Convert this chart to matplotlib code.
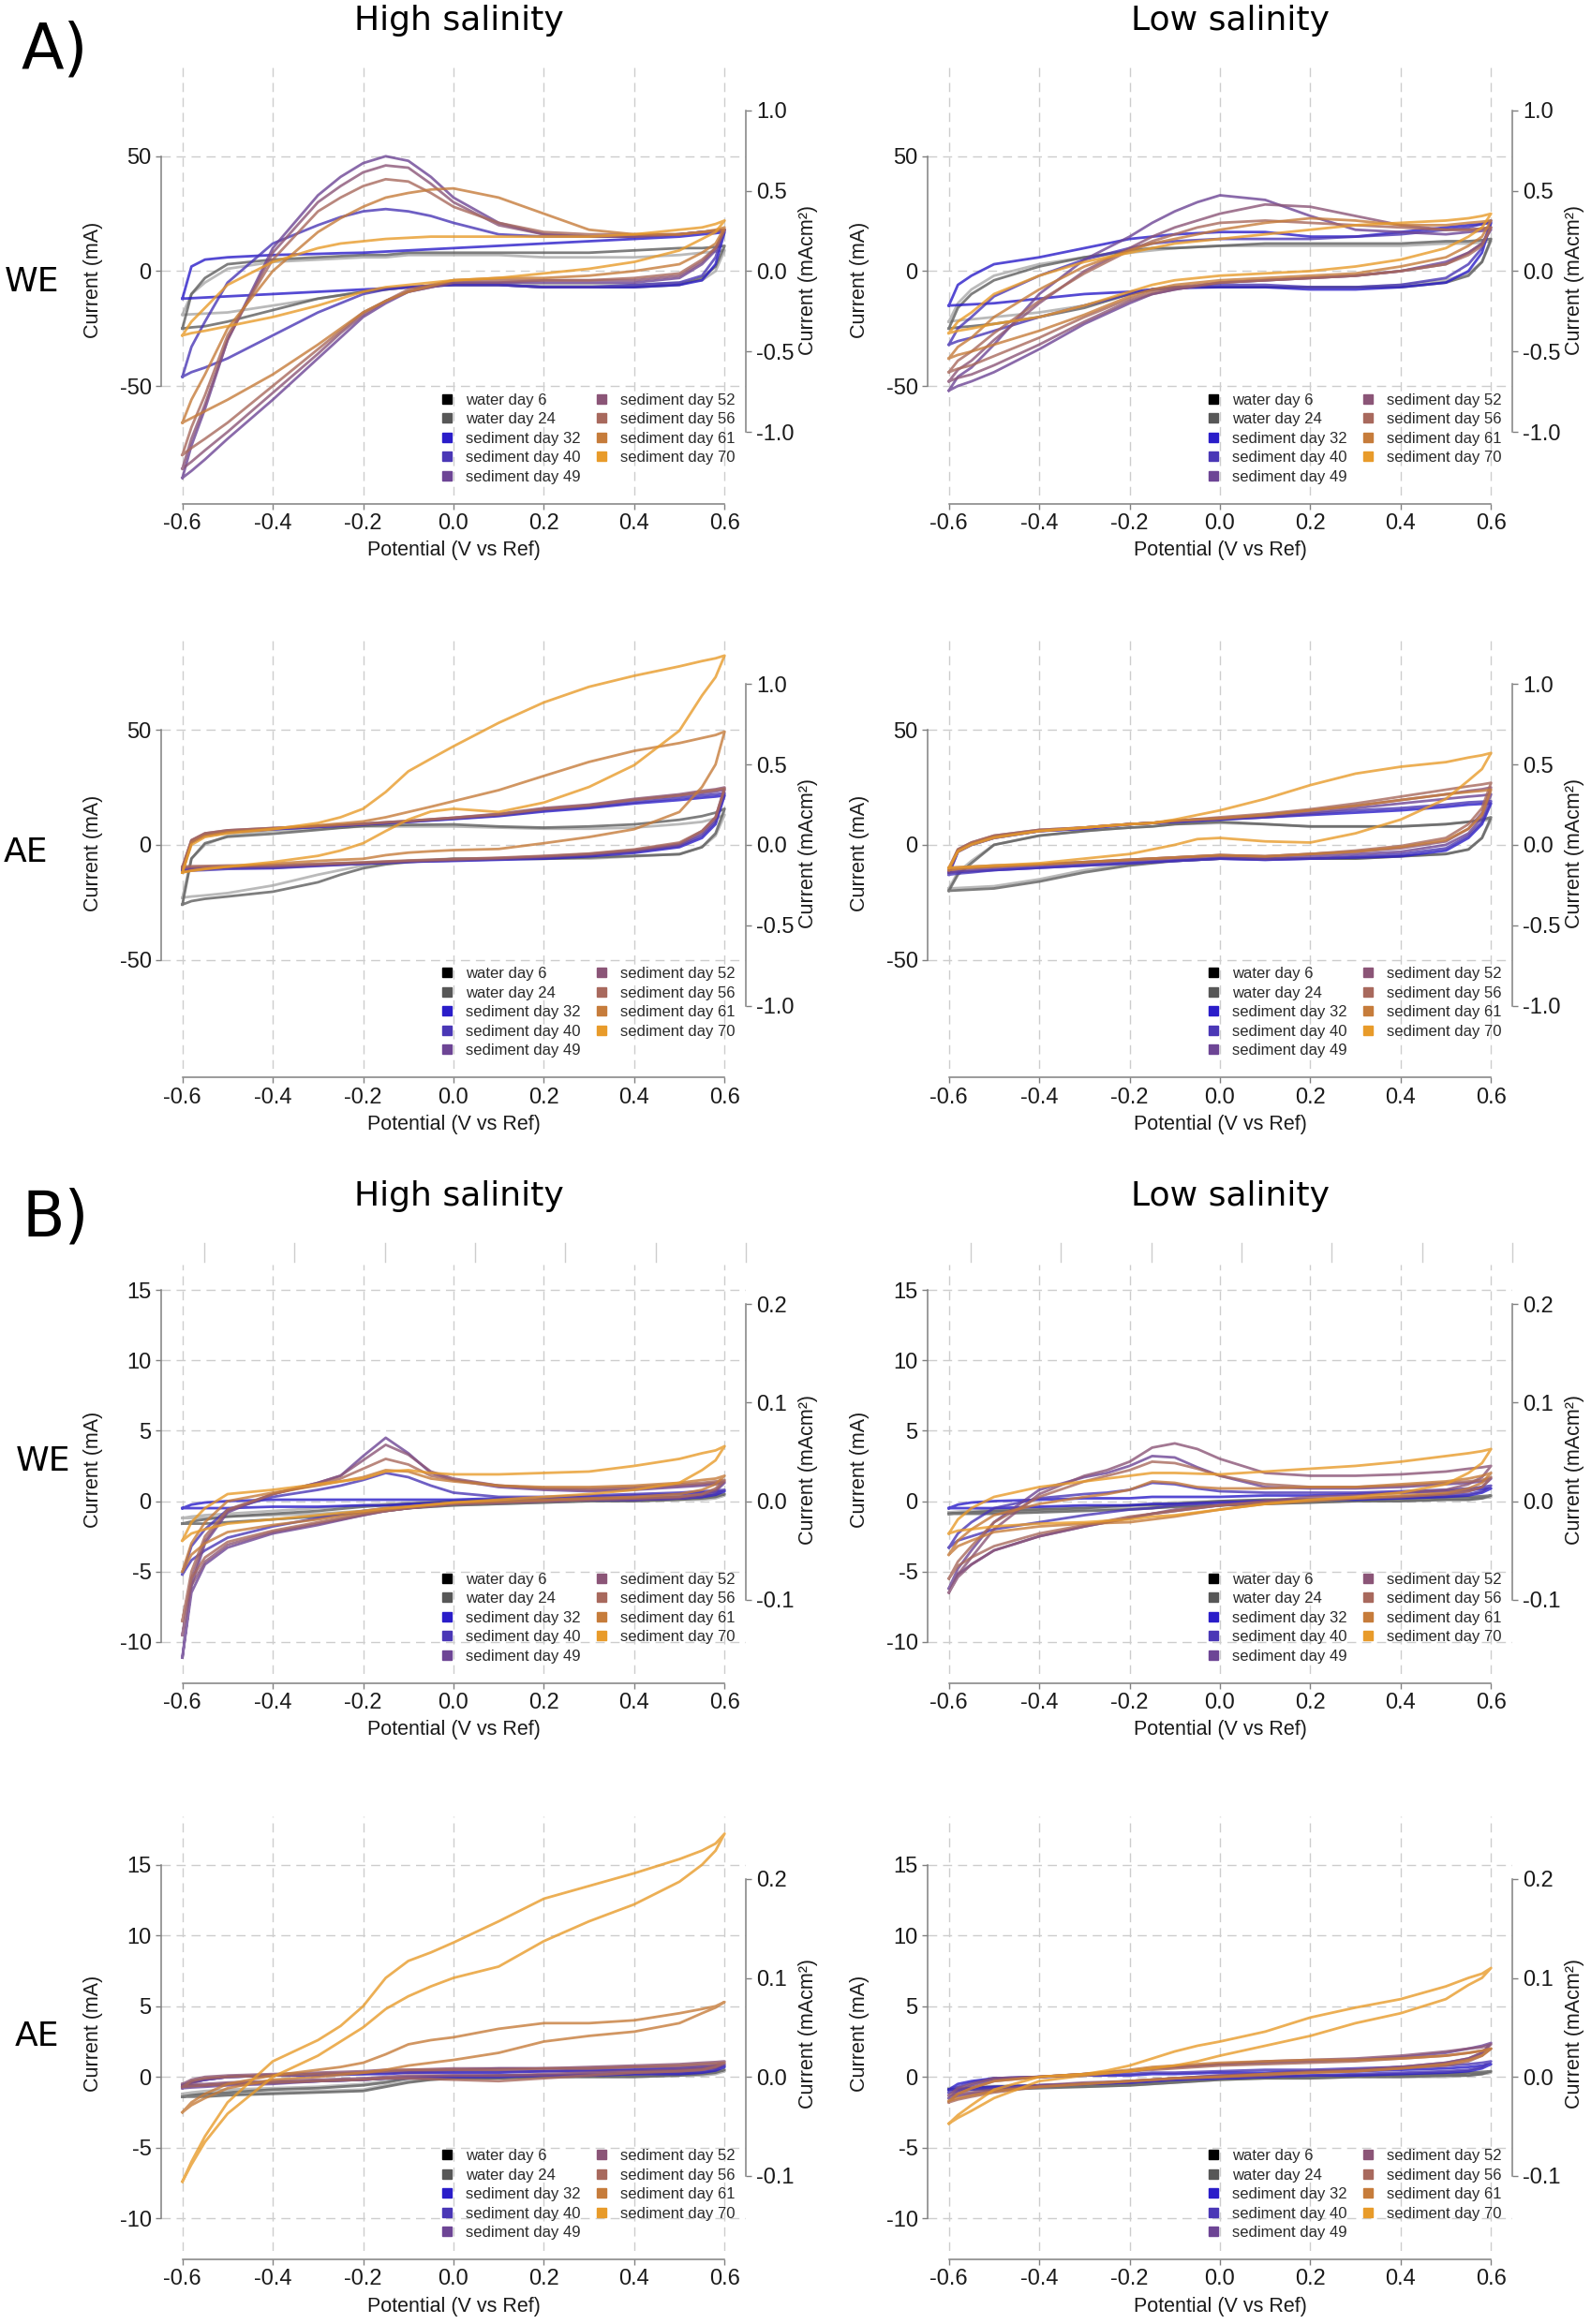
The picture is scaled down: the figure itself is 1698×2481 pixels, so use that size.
import matplotlib
matplotlib.use('Agg')
import matplotlib.pyplot as plt
import matplotlib.transforms as mtransforms
from matplotlib.lines import Line2D
from matplotlib.ticker import FormatStrFormatter

plt.rcParams['axes.unicode_minus'] = False
plt.rcParams['font.family'] = ['Liberation Sans', 'DejaVu Sans']

POT = [-0.6, -0.58, -0.55, -0.5, -0.4, -0.3, -0.25, -0.2, -0.15, -0.1, -0.05,
       0.0, 0.1, 0.2, 0.3, 0.4, 0.5, 0.55, 0.58, 0.6]

SERIES = ['water day 6', 'water day 24', 'sediment day 32', 'sediment day 40',
          'sediment day 49', 'sediment day 52', 'sediment day 56', 'sediment day 61',
          'sediment day 70']
KEY_COLOURS = ['#000000', '#575757', '#2a1dc9', '#4a37b6', '#6d4595', '#8b5577',
               '#a8695d', '#c67c3b', '#e89b2a']
TRACE_COLOURS = ['#a9a9a9', '#5e5e5e', '#2a1dc9', '#4a37b6', '#6d4595', '#8b5577',
                 '#a8695d', '#c67c3b', '#e89b2a']

AREA = 70.0  # cm2, converts mA to mA/cm2 on the right axis

# ---------------- A) working electrode, high salinity (mA); forward / reverse scan
A_WE_HIGH_FWD = [
    [-19, -10, -5, 1, 4, 5, 5.5, 6, 6, 7, 7, 7, 7, 6, 6, 6, 7, 8, 8.5, 9],
    [-25, -10, -3, 3, 5, 6, 6.5, 7, 7, 8, 8, 8, 8, 8, 8, 9, 10, 10, 10.5, 11],
    [-12, 2, 5, 6, 7, 7.5, 7.8, 8, 8.5, 9, 9.5, 10, 11, 12, 13, 14, 15, 16, 16.5, 17],
    [-46, -33, -22, -5, 12, 20, 23.5, 26, 27, 26, 24, 21, 16, 15, 15, 15, 16, 17, 17.5, 18],
    [-90, -76, -60, -30, 10, 33, 41, 47, 50, 48, 41, 32, 21, 16, 15, 15, 16, 17, 17.5, 18],
    [-86, -73, -58, -30, 8, 30, 37, 43, 46, 45, 38, 30, 20, 16, 15, 15, 16, 17, 17.5, 18],
    [-80, -68, -54, -28, 5, 26, 32, 37, 40, 39, 34, 28, 21, 17, 16, 16, 16, 17, 17.5, 18],
    [-66, -56, -45, -25, 0, 17, 23, 28, 32, 34, 35.5, 36, 32, 25, 18, 16, 16, 17, 18, 19],
    [-28, -22, -16, -6, 4, 10, 12, 13, 14, 14.5, 15, 15, 15, 15, 15, 16, 18, 19, 20.5, 22],
]
A_WE_HIGH_REV = [
    [-19, -18.8, -18.5, -18, -15, -12, -10.5, -9, -8, -7, -6.5, -6, -6, -6, -6, -6, -5, -4, 0, 9],
    [-25, -24.5, -24, -22, -17, -12, -10.5, -9, -8, -7, -6.5, -6, -6, -7, -7, -7, -6, -3, 2, 11],
    [-12, -11.8, -11.5, -11, -10, -9, -8.5, -8, -7.5, -7, -6.5, -6, -6, -7, -7, -7, -6, -4, 3, 17],
    [-46, -44, -42, -38, -28, -18, -14, -10, -8, -7, -6.5, -6, -6, -7, -7, -6, -5, -2, 6, 18],
    [-90, -87, -82, -73, -56, -38, -29, -20, -14, -9, -7, -5, -5, -5, -5, -5, -3, 3, 9, 18],
    [-86, -83, -78, -70, -53, -36, -27, -19, -13, -9, -7, -5, -5, -4, -4, -4, -2, 4, 10, 18],
    [-80, -77, -73, -66, -50, -34, -26, -18, -13, -8, -6, -4, -4, -4, -4, -3, -1, 5, 10, 18],
    [-66, -64, -61, -56, -45, -32, -25, -18, -13, -9, -6.5, -4, -3, -3, -2, 0, 3, 8, 12, 19],
    [-28, -27, -26, -24, -20, -15, -12, -9, -7, -6, -5, -4, -3, -1, 1, 4, 9, 14, 17, 22],
]

# ---------------- A) working electrode, low salinity
A_WE_LOW_FWD = [
    [-22, -14, -8, -2, 3, 6, 7, 8, 9, 10, 10.5, 11, 11, 11, 11, 11, 12, 12, 12.5, 13],
    [-25, -16, -10, -4, 2, 6, 7.5, 9, 10, 10, 10.5, 11, 12, 12, 12, 12, 13, 13, 13.5, 14],
    [-15, -6, -2, 3, 6, 10, 12, 14, 15, 16, 16.5, 17, 17, 15, 15, 17, 19, 20, 20.5, 21],
    [-32, -25, -20, -11, -2, 5, 7.5, 10, 12, 13, 13.5, 14, 14, 14, 15, 16, 18, 19, 20.5, 22],
    [-52, -46, -42, -32, -10, 5, 10, 15, 21, 26, 30, 33, 31, 24, 18, 17, 16, 17, 17.5, 18],
    [-48, -43, -39, -30, -14, 0, 5, 10, 15, 19, 22, 25, 29, 28, 24, 20, 18, 18, 18.5, 19],
    [-44, -39, -35, -27, -13, -1, 4, 9, 13, 16, 19, 21, 22, 21, 20, 19, 18, 18, 18.5, 19],
    [-38, -33, -29, -20, -8, 2, 5.5, 9, 12, 14, 16, 18, 21, 23, 22, 20, 20, 21, 21.5, 22],
    [-27, -22, -18, -10, -2, 4, 6, 8, 10, 12, 13, 14, 16, 18, 20, 21, 22, 23, 24, 25],
]
A_WE_LOW_REV = [
    [-22, -21.5, -21, -20, -18, -15, -12.5, -10, -8, -7, -7, -7, -7, -7, -7, -6, -4, -1, 4, 13],
    [-25, -24.5, -24, -23, -20, -16, -13, -10, -8, -7, -7, -7, -7, -7, -7, -7, -5, -2, 4, 14],
    [-15, -14.8, -14.5, -14, -12, -10, -9.5, -9, -8, -7.5, -7.2, -7, -7, -8, -8, -7, -5, 0, 8, 21],
    [-32, -30.5, -29, -26, -20, -15, -12.5, -10, -8, -7, -6.5, -6, -6, -7, -7, -6, -3, 3, 10, 22],
    [-52, -50, -48, -44, -34, -23, -18.5, -14, -10, -8, -6.5, -5, -4, -3, -2, 0, 4, 8, 12, 18],
    [-48, -46.5, -45, -41, -32, -22, -17.5, -13, -10, -8, -6.5, -5, -4, -3, -2, 0, 3, 8, 12, 19],
    [-44, -42.5, -41, -37, -29, -20, -16, -12, -9, -7, -6, -5, -4, -3, -2, 0, 3, 7, 11, 19],
    [-38, -36.5, -35, -32, -26, -19, -15, -11, -8, -6, -5, -4, -3, -2, -1, 2, 6, 11, 15, 22],
    [-27, -26, -25, -23, -20, -15, -12, -9, -6, -4, -3, -2, -1, 0, 2, 5, 10, 15, 19, 25],
]

# ---------------- A) auxiliary electrode, high salinity
A_AE_HIGH_FWD = [
    [-23, -6, 0, 4, 6, 7, 7.5, 8, 8, 8, 8, 8, 7.5, 7, 7, 7.5, 9, 10, 11.5, 13],
    [-26, -6, 0.7, 3.5, 4.8, 6.5, 7.4, 8.2, 8.5, 8.7, 8.8, 8.9, 8, 7.5, 8, 8.9, 10.9, 12.5, 14, 15.7],
    [-11, 1, 4, 5.5, 6.8, 7.8, 8.3, 8.9, 9.4, 10, 10.6, 11.2, 12.5, 14.5, 16, 18, 19.5, 20.5, 21, 21.5],
    [-11.5, 1, 4, 5.5, 6.8, 7.8, 8.3, 8.9, 9.4, 10, 10.7, 11.4, 12.8, 15, 16.5, 18.5, 20.5, 21.5, 22, 22.5],
    [-10.5, 1.5, 4.5, 6, 7, 8, 8.5, 9, 9.6, 10.2, 10.9, 11.6, 13, 15.5, 17, 19.5, 21.5, 22.5, 23.2, 24],
    [-10, 2, 5, 6.3, 7.3, 8.2, 8.7, 9.2, 9.8, 10.4, 11.1, 11.8, 13.5, 16, 17.5, 20, 22, 23.5, 24.2, 25],
    [-9.5, 2, 5, 6.3, 7.3, 8.2, 8.7, 9.2, 9.8, 10.4, 11.1, 11.8, 13.3, 15.6, 17.2, 19.6, 21.5, 23, 23.8, 24.5],
    [-12, 1, 4, 5.5, 7, 8.5, 9.3, 10.2, 12, 14.3, 16.6, 19, 23.8, 30, 36.1, 40.9, 44.3, 46.5, 47.8, 49.3],
    [-12, 0, 3.4, 5, 6.8, 9.5, 12, 15.7, 23, 32, 37.5, 42.9, 53.1, 62, 68.8, 73.6, 77.7, 80, 81.2, 82.4],
]
A_AE_HIGH_REV = [
    [-23, -22.5, -22, -21, -17.7, -13, -11, -9, -8, -7, -6.5, -6, -6, -6, -6, -5, -4, -1, 4, 13],
    [-26, -24.5, -23.5, -22.5, -20.4, -16.3, -13, -10.2, -8.5, -7.5, -6.8, -6.1, -6.1, -6.1, -5.5, -4.8, -4.1, -1, 5, 15.7],
    [-11, -10.8, -10.5, -10, -10, -9, -8.6, -8.2, -7.8, -7.4, -7.2, -7, -6.5, -6, -5, -3.5, -1, 3, 9, 21.5],
    [-11.5, -11.2, -11, -10.5, -10.2, -9.2, -8.7, -8.2, -7.8, -7.4, -7.1, -6.8, -6.3, -5.6, -4.6, -3, -0.5, 4, 10, 22.5],
    [-10.5, -10.2, -10, -9.8, -9.6, -8.8, -8.4, -8, -7.6, -7.2, -6.9, -6.6, -6, -5.3, -4.2, -2.6, 0, 5, 11, 24],
    [-10, -9.8, -9.6, -9.4, -9.2, -8.5, -8.1, -7.8, -7.4, -7, -6.7, -6.4, -5.8, -5, -4, -2.3, 0.5, 6, 12, 25],
    [-9.5, -9.3, -9.2, -9, -8.8, -8.2, -7.9, -7.6, -7.2, -6.8, -6.5, -6.2, -5.6, -4.8, -3.8, -2, 1, 6, 12, 24.5],
    [-12, -11.2, -10.5, -9.5, -8.2, -7, -6.5, -6.1, -4.5, -3.4, -2.8, -2.3, -1.8, 0.7, 3.4, 6.8, 14.3, 25.2, 35, 49.3],
    [-12, -11.3, -10.5, -9.5, -7.5, -4.8, -2.5, 0.7, 6, 11, 14.5, 15.7, 14.3, 18.4, 25.2, 34.7, 49.7, 65, 73, 82.4],
]

# ---------------- A) auxiliary electrode, low salinity
A_AE_LOW_FWD = [
    [-19, -12, -7, 0, 4, 6, 6.8, 7.5, 8, 9, 9.2, 9.5, 9, 8, 8, 8, 9, 10, 10.5, 11],
    [-20, -13, -8, 0, 4, 6, 6.8, 7.5, 8, 9, 9.5, 10, 9, 8, 8, 8, 9, 10, 11, 12],
    [-12, -3, 0, 3, 6, 7, 8, 9, 9.5, 10, 10.5, 11, 12, 13, 14, 15, 16.5, 17.5, 17.8, 18],
    [-13, -3, 0, 3, 6, 7, 8, 9, 9.5, 10, 10.5, 11, 12, 13.5, 15, 16, 17.5, 18.5, 18.8, 19],
    [-12, -2.5, 0.5, 3.5, 6, 7.5, 8.3, 9, 9.5, 10.5, 11, 11.5, 12.5, 14, 16, 18, 20, 21, 21.5, 22],
    [-11, -2, 1, 4, 6.5, 7.5, 8.3, 9, 9.5, 10.5, 11, 11.5, 13, 15, 17, 19.5, 22, 23.5, 24.2, 25],
    [-10, -2, 1, 4, 6.5, 7.5, 8.3, 9, 9.5, 10.5, 11.2, 12, 13.5, 15.5, 18, 21, 24, 25.5, 26.3, 27],
    [-11, -2.5, 0.5, 3.5, 6, 7.5, 8.3, 9, 9.5, 10.5, 11, 11.5, 13, 15, 17, 19.5, 22, 23, 23.5, 24],
    [-10, -3, 0, 3, 6, 7.5, 8.3, 9, 9.5, 11, 13, 15, 20, 26, 31, 34, 36, 38, 39, 40],
]
A_AE_LOW_REV = [
    [-19, -18.8, -18.5, -18, -15, -11, -9.7, -8.5, -7.5, -7, -6.5, -6, -6, -6, -6, -5, -4, -2, 3, 11],
    [-20, -19.8, -19.5, -19, -16, -12, -10.5, -9, -8, -7, -6.5, -6, -6, -6, -6, -5, -4, -2, 3, 12],
    [-12, -11.8, -11.5, -11, -10, -9, -8.5, -8, -7.5, -7, -6.5, -6, -6.5, -6, -5.5, -5, -2.5, 3, 9, 18],
    [-13, -12.5, -12, -11, -10, -9, -8.5, -8, -7.5, -7, -6.5, -6, -6.5, -6, -5, -4, -1.5, 4, 10, 19],
    [-12, -11.5, -11, -10, -9, -8, -7.5, -7, -6.5, -6, -5.5, -5, -6, -5, -4, -3, 0, 5, 12, 22],
    [-11, -10.5, -10, -9.5, -8.5, -7.5, -7, -6.5, -6, -5.5, -5, -4.5, -5, -4, -3, -1.5, 1.5, 7, 14, 25],
    [-10, -9.8, -9.5, -9, -8.5, -7.5, -7, -6.5, -6, -5.5, -5, -4.5, -5, -4, -2.5, -0.5, 3, 9, 16, 27],
    [-11, -10.5, -10, -9.5, -8.5, -7.5, -7, -6.5, -6, -5.5, -5, -4.5, -5, -4, -3, -1, 2, 7, 13, 24],
    [-10, -9.8, -9.5, -9, -8, -6, -5, -4, -2, 0, 2.5, 3, 1.5, 1, 5, 11, 20, 28, 33, 40],
]

# ---------------- B) working electrode, high salinity
B_WE_HIGH_FWD = [
    [-1.2, -1.1, -1.0, -0.9, -0.7, -0.5, -0.4, -0.3, -0.2, -0.1, -0.05, 0.0, 0.1, 0.1, 0.2, 0.2, 0.3, 0.3, 0.35, 0.4],
    [-1.6, -1.45, -1.3, -1.1, -0.9, -0.7, -0.55, -0.4, -0.3, -0.2, -0.1, 0.0, 0.1, 0.1, 0.2, 0.2, 0.3, 0.4, 0.45, 0.5],
    [-0.5, -0.25, -0.1, 0.0, 0.1, 0.1, 0.1, 0.1, 0.1, 0.1, 0.1, 0.1, 0.2, 0.2, 0.3, 0.4, 0.5, 0.6, 0.65, 0.7],
    [-5.2, -3.2, -2.0, -0.6, 0.3, 0.8, 1.1, 1.5, 2.0, 1.7, 1.1, 0.6, 0.3, 0.3, 0.4, 0.5, 0.6, 0.7, 0.75, 0.8],
    [-11.1, -6.0, -3.0, -0.8, 0.5, 1.3, 1.8, 3.2, 4.5, 3.4, 2.0, 1.5, 1.0, 0.8, 0.7, 0.8, 1.0, 1.1, 1.2, 1.3],
    [-9.5, -5.5, -2.8, -0.7, 0.5, 1.3, 1.8, 2.9, 4.0, 3.3, 2.1, 1.6, 1.1, 0.9, 0.8, 0.9, 1.1, 1.2, 1.3, 1.4],
    [-8.5, -5.0, -2.5, -0.6, 0.5, 1.2, 1.6, 2.3, 3.0, 2.6, 1.8, 1.5, 1.1, 0.9, 0.9, 1.0, 1.2, 1.3, 1.4, 1.5],
    [-5.0, -3.0, -1.5, 0.0, 0.6, 1.1, 1.4, 1.7, 2.2, 2.1, 1.6, 1.4, 1.1, 1.0, 1.0, 1.1, 1.3, 1.5, 1.6, 1.8],
    [-2.8, -1.5, -0.5, 0.5, 0.8, 1.2, 1.4, 1.6, 2.1, 2.2, 2.0, 1.9, 1.9, 2.0, 2.1, 2.5, 3.0, 3.4, 3.6, 3.9],
]
B_WE_HIGH_REV = [
    [-1.2, -1.2, -1.2, -1.1, -1.0, -0.9, -0.8, -0.7, -0.6, -0.5, -0.4, -0.3, -0.2, -0.1, 0.0, 0.0, 0.1, 0.1, 0.2, 0.4],
    [-1.6, -1.6, -1.6, -1.5, -1.3, -1.1, -0.95, -0.8, -0.7, -0.5, -0.4, -0.3, -0.2, -0.1, 0.0, 0.0, 0.1, 0.2, 0.3, 0.5],
    [-0.5, -0.5, -0.5, -0.5, -0.4, -0.4, -0.35, -0.3, -0.3, -0.2, -0.15, -0.1, 0.0, 0.0, 0.1, 0.1, 0.2, 0.3, 0.45, 0.7],
    [-5.2, -4.2, -3.5, -2.6, -1.8, -1.2, -0.95, -0.7, -0.5, -0.3, -0.2, -0.1, -0.1, 0.0, 0.1, 0.1, 0.2, 0.3, 0.5, 0.8],
    [-11.1, -6.5, -4.5, -3.3, -2.3, -1.7, -1.35, -1.0, -0.7, -0.5, -0.35, -0.2, -0.1, 0.0, 0.1, 0.1, 0.2, 0.4, 0.7, 1.3],
    [-9.5, -6.0, -4.3, -3.1, -2.2, -1.6, -1.3, -1.0, -0.7, -0.5, -0.35, -0.2, -0.1, 0.0, 0.1, 0.2, 0.3, 0.5, 0.8, 1.4],
    [-8.5, -5.5, -4.0, -2.9, -2.1, -1.5, -1.2, -0.9, -0.7, -0.5, -0.35, -0.2, -0.1, 0.0, 0.1, 0.2, 0.3, 0.5, 0.9, 1.5],
    [-5.0, -3.8, -3.0, -2.2, -1.7, -1.3, -1.05, -0.8, -0.6, -0.4, -0.25, -0.1, 0.0, 0.1, 0.2, 0.3, 0.5, 0.8, 1.2, 1.8],
    [-2.8, -2.3, -2.0, -1.6, -1.3, -1.0, -0.85, -0.7, -0.5, -0.4, -0.25, -0.1, 0.1, 0.3, 0.5, 0.8, 1.3, 2.2, 2.9, 3.9],
]

# ---------------- B) working electrode, low salinity
B_WE_LOW_FWD = [
    [-0.8, -0.75, -0.7, -0.6, -0.5, -0.4, -0.35, -0.3, -0.2, -0.1, -0.05, 0.0, 0.1, 0.1, 0.1, 0.2, 0.2, 0.2, 0.25, 0.3],
    [-0.9, -0.85, -0.8, -0.7, -0.6, -0.5, -0.4, -0.3, -0.3, -0.2, -0.1, 0.0, 0.1, 0.1, 0.2, 0.2, 0.3, 0.3, 0.35, 0.4],
    [-0.5, -0.25, -0.1, 0.0, 0.1, 0.2, 0.2, 0.2, 0.3, 0.3, 0.3, 0.3, 0.4, 0.4, 0.5, 0.6, 0.7, 0.8, 0.85, 0.9],
    [-3.3, -2.3, -1.5, -0.5, 0.2, 0.5, 0.6, 0.8, 1.3, 1.2, 0.9, 0.7, 0.6, 0.6, 0.6, 0.7, 0.8, 0.9, 1.0, 1.1],
    [-6.2, -4.8, -3.5, -1.5, 0.8, 1.7, 2.0, 2.5, 3.2, 3.1, 2.4, 1.8, 1.0, 0.9, 0.9, 1.0, 1.2, 1.3, 1.4, 1.6],
    [-6.5, -5.2, -4.0, -2.0, 0.5, 1.8, 2.2, 2.8, 3.8, 4.1, 3.7, 3.0, 2.0, 1.8, 1.8, 1.9, 2.1, 2.3, 2.4, 2.5],
    [-5.5, -4.3, -3.2, -1.5, 0.3, 1.4, 1.8, 2.2, 2.8, 2.7, 2.3, 1.8, 1.2, 1.0, 1.0, 1.1, 1.3, 1.4, 1.5, 1.7],
    [-3.8, -2.8, -2.0, -1.0, -0.2, 0.3, 0.5, 0.8, 1.4, 1.3, 1.0, 0.9, 0.9, 1.0, 1.0, 1.2, 1.4, 1.6, 1.8, 2.0],
    [-2.3, -1.3, -0.5, 0.3, 1.0, 1.4, 1.6, 1.8, 2.0, 2.0, 1.95, 1.9, 2.1, 2.3, 2.5, 2.8, 3.2, 3.4, 3.55, 3.7],
]
B_WE_LOW_REV = [
    [-0.8, -0.8, -0.8, -0.8, -0.7, -0.6, -0.55, -0.5, -0.5, -0.4, -0.35, -0.3, -0.2, -0.1, 0.0, 0.0, 0.1, 0.1, 0.2, 0.3],
    [-0.9, -0.9, -0.9, -0.9, -0.8, -0.7, -0.65, -0.6, -0.5, -0.4, -0.35, -0.3, -0.2, -0.1, 0.0, 0.0, 0.1, 0.1, 0.2, 0.4],
    [-0.5, -0.5, -0.5, -0.5, -0.4, -0.3, -0.3, -0.3, -0.2, -0.2, -0.15, -0.1, 0.0, 0.1, 0.1, 0.2, 0.3, 0.4, 0.6, 0.9],
    [-3.3, -2.8, -2.5, -2.0, -1.5, -1.0, -0.8, -0.6, -0.5, -0.3, -0.2, -0.1, 0.0, 0.1, 0.2, 0.3, 0.4, 0.5, 0.7, 1.1],
    [-6.2, -5.2, -4.5, -3.5, -2.5, -1.8, -1.5, -1.2, -0.9, -0.7, -0.5, -0.3, -0.1, 0.1, 0.2, 0.3, 0.5, 0.7, 1.0, 1.6],
    [-6.5, -5.4, -4.5, -3.5, -2.5, -1.8, -1.5, -1.2, -0.9, -0.6, -0.45, -0.3, 0.0, 0.3, 0.4, 0.6, 0.8, 1.2, 1.7, 2.5],
    [-5.5, -4.6, -4.0, -3.2, -2.3, -1.7, -1.4, -1.1, -0.9, -0.7, -0.5, -0.3, -0.1, 0.1, 0.2, 0.3, 0.5, 0.7, 1.0, 1.7],
    [-3.8, -3.2, -2.8, -2.2, -1.8, -1.6, -1.55, -1.5, -1.3, -1.1, -0.85, -0.6, -0.2, 0.0, 0.2, 0.4, 0.6, 0.9, 1.3, 2.0],
    [-2.3, -2.1, -2.0, -1.8, -1.6, -1.5, -1.4, -1.3, -1.1, -1.0, -0.8, -0.6, -0.2, 0.1, 0.3, 0.6, 1.2, 2.0, 2.7, 3.7],
]

# ---------------- B) auxiliary electrode, high salinity
B_AE_HIGH_FWD = [
    [-1.2, -1.1, -1.0, -0.9, -0.8, -0.7, -0.6, -0.5, -0.3, -0.1, -0.05, 0.0, 0.0, 0.1, 0.1, 0.2, 0.2, 0.3, 0.35, 0.4],
    [-1.4, -1.3, -1.2, -1.1, -0.9, -0.8, -0.7, -0.6, -0.4, -0.1, -0.05, 0.0, 0.1, 0.1, 0.1, 0.2, 0.3, 0.3, 0.4, 0.5],
    [-0.6, -0.35, -0.2, 0.0, 0.1, 0.1, 0.15, 0.2, 0.2, 0.3, 0.3, 0.3, 0.3, 0.4, 0.4, 0.5, 0.5, 0.6, 0.65, 0.7],
    [-0.7, -0.4, -0.2, 0.0, 0.1, 0.2, 0.2, 0.2, 0.3, 0.3, 0.35, 0.4, 0.4, 0.4, 0.5, 0.5, 0.6, 0.7, 0.75, 0.8],
    [-0.8, -0.4, -0.2, 0.0, 0.1, 0.2, 0.25, 0.3, 0.4, 0.4, 0.45, 0.5, 0.6, 0.6, 0.6, 0.7, 0.7, 0.8, 0.85, 0.9],
    [-0.5, -0.2, 0.0, 0.1, 0.2, 0.3, 0.35, 0.4, 0.5, 0.5, 0.55, 0.6, 0.6, 0.6, 0.7, 0.8, 0.9, 1.0, 1.05, 1.1],
    [-0.7, -0.3, -0.1, 0.0, 0.1, 0.2, 0.25, 0.3, 0.4, 0.5, 0.5, 0.5, 0.5, 0.6, 0.6, 0.7, 0.8, 0.9, 0.95, 1.0],
    [-2.5, -1.8, -1.2, -0.5, 0.1, 0.5, 0.7, 1.0, 1.6, 2.3, 2.6, 2.8, 3.4, 3.8, 3.8, 4.0, 4.5, 4.8, 5.0, 5.3],
    [-7.4, -6.0, -4.2, -1.8, 1.1, 2.6, 3.6, 5.0, 7.0, 8.2, 8.8, 9.5, 11.0, 12.6, 13.5, 14.4, 15.4, 16.0, 16.5, 17.2],
]
B_AE_HIGH_REV = [
    [-1.2, -1.2, -1.2, -1.2, -1.1, -1.0, -0.95, -0.9, -0.6, -0.3, -0.2, -0.1, -0.1, 0.0, 0.0, 0.0, 0.1, 0.1, 0.2, 0.4],
    [-1.4, -1.4, -1.4, -1.3, -1.2, -1.1, -1.05, -1.0, -0.7, -0.4, -0.2, -0.1, -0.1, 0.0, 0.0, 0.0, 0.1, 0.2, 0.3, 0.5],
    [-0.6, -0.6, -0.6, -0.5, -0.4, -0.3, -0.25, -0.2, -0.1, -0.1, -0.05, 0.0, 0.0, 0.1, 0.1, 0.2, 0.2, 0.3, 0.45, 0.7],
    [-0.7, -0.65, -0.6, -0.5, -0.4, -0.3, -0.25, -0.2, -0.1, -0.1, -0.05, 0.0, 0.0, 0.1, 0.1, 0.2, 0.3, 0.4, 0.55, 0.8],
    [-0.8, -0.75, -0.7, -0.6, -0.5, -0.3, -0.25, -0.2, -0.1, 0.0, 0.05, 0.1, 0.1, 0.1, 0.2, 0.3, 0.4, 0.5, 0.65, 0.9],
    [-0.5, -0.5, -0.5, -0.4, -0.3, -0.2, -0.15, -0.1, 0.0, 0.1, 0.1, 0.1, 0.1, 0.2, 0.3, 0.4, 0.5, 0.6, 0.8, 1.1],
    [-0.7, -0.65, -0.6, -0.5, -0.4, -0.3, -0.25, -0.2, -0.1, -0.1, -0.15, -0.2, -0.3, -0.1, 0.1, 0.3, 0.4, 0.5, 0.7, 1.0],
    [-2.5, -2.0, -1.5, -0.8, -0.2, 0.0, 0.15, 0.3, 0.5, 0.8, 1.0, 1.2, 1.7, 2.5, 2.9, 3.2, 3.8, 4.5, 4.9, 5.3],
    [-7.4, -6.2, -4.6, -2.6, 0.0, 1.5, 2.5, 3.5, 4.8, 5.7, 6.4, 7.0, 7.8, 9.6, 11.0, 12.2, 13.8, 15.0, 16.0, 17.2],
]

# ---------------- B) auxiliary electrode, low salinity
B_AE_LOW_FWD = [
    [-0.8, -0.75, -0.7, -0.65, -0.6, -0.55, -0.52, -0.5, -0.4, -0.2, -0.15, -0.1, 0.0, 0.0, 0.1, 0.1, 0.2, 0.2, 0.25, 0.3],
    [-0.9, -0.85, -0.8, -0.7, -0.6, -0.6, -0.55, -0.5, -0.4, -0.3, -0.2, -0.1, 0.0, 0.0, 0.1, 0.1, 0.2, 0.3, 0.35, 0.4],
    [-0.9, -0.5, -0.3, -0.1, 0.0, 0.1, 0.1, 0.1, 0.2, 0.2, 0.25, 0.3, 0.3, 0.4, 0.4, 0.5, 0.6, 0.7, 0.8, 0.9],
    [-1.1, -0.7, -0.4, -0.1, 0.0, 0.1, 0.15, 0.2, 0.3, 0.3, 0.35, 0.4, 0.5, 0.5, 0.6, 0.7, 0.8, 0.9, 1.0, 1.1],
    [-1.5, -1.0, -0.6, -0.2, 0.0, 0.2, 0.3, 0.4, 0.6, 0.7, 0.8, 0.9, 1.0, 1.1, 1.2, 1.4, 1.7, 2.0, 2.2, 2.4],
    [-1.3, -0.8, -0.5, -0.1, 0.0, 0.2, 0.3, 0.4, 0.6, 0.7, 0.8, 0.9, 1.1, 1.2, 1.3, 1.5, 1.8, 2.0, 2.1, 2.3],
    [-1.8, -1.2, -0.8, -0.3, 0.0, 0.2, 0.3, 0.4, 0.5, 0.6, 0.7, 0.8, 0.9, 1.0, 1.1, 1.3, 1.5, 1.7, 1.85, 2.0],
    [-1.7, -1.2, -0.8, -0.3, 0.0, 0.2, 0.35, 0.5, 0.7, 0.8, 0.9, 1.0, 1.1, 1.2, 1.2, 1.3, 1.5, 1.7, 1.85, 2.0],
    [-3.3, -2.7, -2.0, -0.9, 0.0, 0.2, 0.45, 0.8, 1.3, 1.8, 2.2, 2.5, 3.2, 4.2, 4.9, 5.5, 6.4, 7.0, 7.3, 7.7],
]
B_AE_LOW_REV = [
    [-0.8, -0.8, -0.8, -0.8, -0.7, -0.7, -0.65, -0.6, -0.5, -0.4, -0.3, -0.2, -0.1, -0.1, 0.0, 0.0, 0.0, 0.1, 0.2, 0.3],
    [-0.9, -0.9, -0.9, -0.9, -0.8, -0.7, -0.65, -0.6, -0.5, -0.4, -0.3, -0.2, -0.1, -0.1, 0.0, 0.0, 0.1, 0.1, 0.2, 0.4],
    [-0.9, -0.85, -0.8, -0.7, -0.6, -0.5, -0.45, -0.4, -0.3, -0.2, -0.15, -0.1, 0.0, 0.1, 0.1, 0.2, 0.3, 0.4, 0.6, 0.9],
    [-1.1, -1.0, -0.9, -0.8, -0.6, -0.5, -0.45, -0.4, -0.3, -0.2, -0.15, -0.1, 0.0, 0.1, 0.2, 0.3, 0.4, 0.5, 0.7, 1.1],
    [-1.5, -1.35, -1.2, -1.0, -0.7, -0.5, -0.4, -0.3, -0.2, -0.1, 0.0, 0.1, 0.2, 0.4, 0.5, 0.7, 1.0, 1.3, 1.7, 2.4],
    [-1.3, -1.2, -1.1, -0.9, -0.6, -0.4, -0.35, -0.3, -0.2, -0.1, 0.0, 0.1, 0.2, 0.4, 0.5, 0.7, 1.0, 1.3, 1.7, 2.3],
    [-1.8, -1.6, -1.4, -1.1, -0.7, -0.5, -0.4, -0.3, -0.2, -0.1, -0.05, 0.0, 0.1, 0.3, 0.4, 0.6, 0.8, 1.1, 1.5, 2.0],
    [-1.7, -1.5, -1.3, -1.0, -0.7, -0.5, -0.4, -0.3, -0.2, -0.1, -0.05, 0.0, 0.2, 0.3, 0.4, 0.6, 0.9, 1.2, 1.5, 2.0],
    [-3.3, -2.9, -2.4, -1.5, -0.3, 0.1, 0.25, 0.4, 0.6, 0.8, 1.1, 1.5, 2.2, 2.9, 3.8, 4.5, 5.5, 6.5, 7.0, 7.7],
]

XTICKS = [-0.6, -0.4, -0.2, 0.0, 0.2, 0.4, 0.6]
A_TICKS, A_RTICKS = [-50, 0, 50], [-1.0, -0.5, 0.0, 0.5, 1.0]
B_TICKS, B_RTICKS = [-10, -5, 0, 5, 10, 15], [-0.1, 0.0, 0.1, 0.2]

# figure layout, in pixels of the 1699 x 2481 output
W, H = 1699, 2481
COL_X = [172, 990]
AX_W = 624
ROWS = [  # top, bottom, ylim, ticks, right ticks, row label, label centre
    (68.7, 528.5, (-97.5, 90), A_TICKS, A_RTICKS, 'WE', (34, 301)),
    (681.2, 1141, (-97.5, 90), A_TICKS, A_RTICKS, 'AE', (27, 910)),
    (1350, 1787.4, (-12.3, 16.8), B_TICKS, B_RTICKS, 'WE', (46, 1560)),
    (1939.4, 2402.9, (-12.3, 18.4), B_TICKS, B_RTICKS, 'AE', (39, 2174)),
]
PANELS = [
    [(A_WE_HIGH_FWD, A_WE_HIGH_REV), (A_WE_LOW_FWD, A_WE_LOW_REV)],
    [(A_AE_HIGH_FWD, A_AE_HIGH_REV), (A_AE_LOW_FWD, A_AE_LOW_REV)],
    [(B_WE_HIGH_FWD, B_WE_HIGH_REV), (B_WE_LOW_FWD, B_WE_LOW_REV)],
    [(B_AE_HIGH_FWD, B_AE_HIGH_REV), (B_AE_LOW_FWD, B_AE_LOW_REV)],
]

SPINE = '#808080'
GRID = '#cdcdcd'
TXT = '#1a1a1a'

fig = plt.figure(figsize=(W / 100, H / 100), dpi=100)

handles = [Line2D([0], [0], marker='s', ls='none', color=c, markersize=7.2, label=s)
           for s, c in zip(SERIES, KEY_COLOURS)]

for r, (top, bot, ylim, yt, rt, rlab, rpos) in enumerate(ROWS):
    h = bot - top
    for c in range(2):
        fwd, rev = PANELS[r][c]
        ax = fig.add_axes([COL_X[c] / W, 1 - bot / H, AX_W / W, h / H])
        for i in range(len(SERIES)):
            xs = POT + POT[::-1]
            ys = fwd[i] + rev[i][::-1]
            ax.plot(xs, ys, color=TRACE_COLOURS[i], lw=2.0, alpha=0.8,
                    solid_joinstyle='round', zorder=3)
        ax.set_xlim(-0.647, 0.647)
        ax.set_ylim(*ylim)
        ax.set_xticks(XTICKS)
        ax.set_yticks(yt)
        ax.xaxis.set_major_formatter(FormatStrFormatter('%.1f'))
        ax.yaxis.set_major_formatter(FormatStrFormatter('%d'))
        ax.grid(True, color=GRID, lw=1.0, linestyle=(0, (7, 4.5)), zorder=0)
        ax.set_axisbelow(True)
        for s in ['top', 'right']:
            ax.spines[s].set_visible(False)
        ax.spines['left'].set_bounds(yt[0], yt[-1])
        ax.spines['bottom'].set_bounds(-0.6, 0.6)
        ax.spines['bottom'].set_position(('outward', 6.6))
        for s in ['left', 'bottom']:
            ax.spines[s].set_color(SPINE)
            ax.spines[s].set_linewidth(1.1)
        ax.tick_params(axis='both', labelsize=17, colors=SPINE, labelcolor=TXT,
                       length=4, width=1.0, pad=3.5)
        ax.set_xlabel('Potential (V vs Ref)', fontsize=15.5, color=TXT)
        ax.xaxis.label.set_va('center')
        ax.xaxis.set_label_coords(0.5, -59.5 / h)
        ax.set_ylabel('Current (mA)', fontsize=15.5, color=TXT)
        ax.yaxis.label.set_va('center')
        ax.yaxis.set_label_coords(-72 / AX_W, 0.5)

        tw = ax.twinx()
        tw.set_ylim(ylim[0] / AREA, ylim[1] / AREA)
        tw.set_yticks(rt)
        tw.yaxis.set_major_formatter(FormatStrFormatter('%.1f'))
        for s in ['top', 'left', 'bottom']:
            tw.spines[s].set_visible(False)
        tw.spines['right'].set_bounds(rt[0], rt[-1])
        tw.spines['right'].set_color(SPINE)
        tw.spines['right'].set_linewidth(1.1)
        tw.tick_params(axis='y', labelsize=17, colors=SPINE, labelcolor=TXT,
                       length=4, width=1.0, pad=4)
        tw.set_ylabel('Current (mAcm²)', fontsize=15.5, color=TXT)
        tw.yaxis.label.set_va('center')
        tw.yaxis.set_label_coords(1 + 67 / AX_W, 0.5)

        # legend: first row sits ~111 px above the bottom spine
        x0 = COL_X[c] + 22.6 + 274.5
        y0 = bot + 9.2 - 118
        ax.legend(handles=handles, ncol=2, loc='upper left',
                  bbox_to_anchor=(x0 / W, 1 - y0 / H), bbox_transform=fig.transFigure,
                  frameon=False, fontsize=12, borderpad=0, borderaxespad=0,
                  handlelength=1.0, handletextpad=0.7, columnspacing=0.8,
                  labelspacing=0.33, labelcolor='#2a2a2a')

        # stray grid stubs above the B) working-electrode panels
        if r == 2:
            shift = mtransforms.ScaledTranslation(23 / 100, 0, fig.dpi_scale_trans)
            trans = mtransforms.blended_transform_factory(ax.transData + shift,
                                                          fig.transFigure)
            for xv in XTICKS:
                ax.plot([xv, xv], [1 - 1327 / H, 1 - 1347 / H], transform=trans,
                        color=GRID, lw=1.0, clip_on=False)

    fig.text(rpos[0] / W, 1 - rpos[1] / H, rlab, fontsize=26, ha='center', va='center',
             family='DejaVu Sans', color='black')

# column headings and section letters
for (yb, letter, lx, ly) in [(32, 'A)', 22, 73), (1287, 'B)', 24, 1319)]:
    fig.text(490 / W, 1 - yb / H, 'High salinity', fontsize=26, ha='center',
             va='baseline', family='DejaVu Sans', color='black')
    fig.text(1313 / W, 1 - yb / H, 'Low salinity', fontsize=26, ha='center',
             va='baseline', family='DejaVu Sans', color='black')
    fig.text(lx / W, 1 - ly / H, letter, fontsize=48, ha='left', va='baseline',
             family='DejaVu Sans', color='black')

fig.savefig('out.png', dpi=100, facecolor='white')
